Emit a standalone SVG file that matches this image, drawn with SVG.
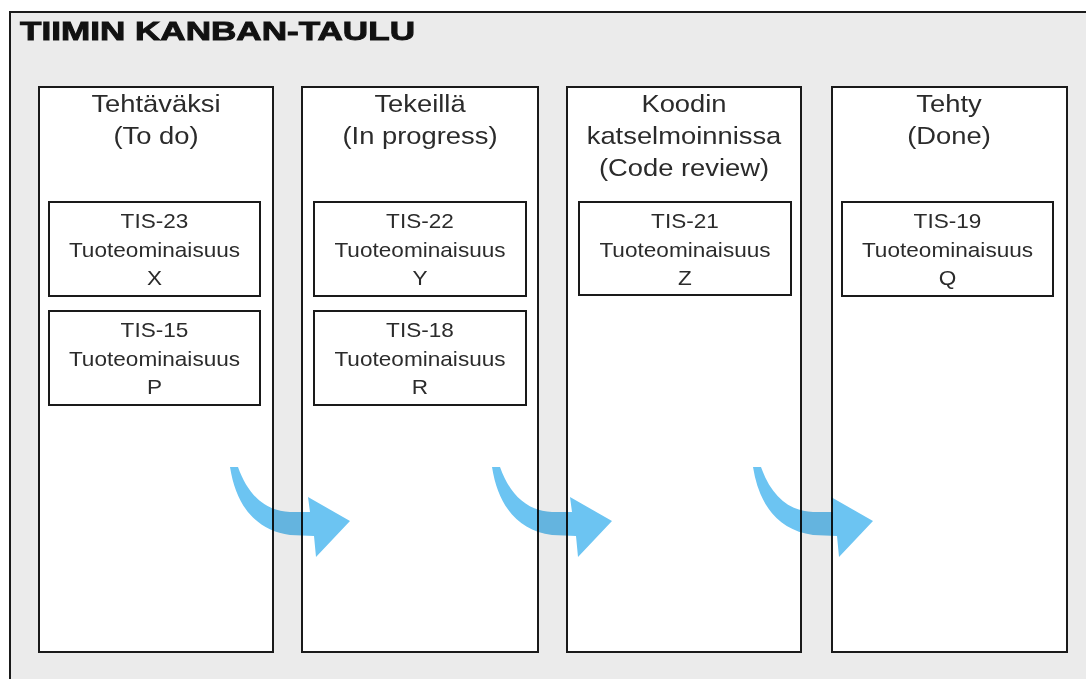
<svg xmlns="http://www.w3.org/2000/svg" width="1086" height="679" viewBox="0 0 1086 679">
<style>
.frame{fill:#ebebeb;stroke:#1a1a1a;stroke-width:2}
.col{fill:#ffffff;stroke:#1a1a1a;stroke-width:2}
.card{fill:#ffffff;stroke:#1a1a1a;stroke-width:2}
.title{font-family:"Liberation Sans",Arial,sans-serif;font-weight:bold;font-size:26px;fill:#111;stroke:#111;stroke-width:0.9}
.ct{font-family:"Liberation Sans",Arial,sans-serif;font-size:24px;fill:#2b2b2b;text-anchor:middle}
.kt{font-family:"Liberation Sans",Arial,sans-serif;font-size:20px;fill:#2b2b2b;text-anchor:middle}
.arrow{fill:#6cc4f2;mix-blend-mode:multiply}
</style>
<defs>
<path id="arr" d="M230,467 C236,505 255,530 290,535 L314,536 L316,557 L350,521 L308,497 L310,512 L290,512 C265,511 248,495 238,467 Z"/>
</defs>
<g id="board">
<rect class="frame" x="10" y="12" width="1090" height="680"/>
<text class="title" x="20" y="40" textLength="395" lengthAdjust="spacingAndGlyphs">TIIMIN KANBAN-TAULU</text>
</g>
<g id="col-todo">
<rect class="col" x="39" y="87" width="234" height="565"/>
<text class="ct" transform="translate(156,112) scale(1.14,1)">Tehtäväksi</text>
<text class="ct" transform="translate(156,144) scale(1.14,1)">(To do)</text>
</g>
<g id="col-progress">
<rect class="col" x="302" y="87" width="236" height="565"/>
<text class="ct" transform="translate(420,112) scale(1.14,1)">Tekeillä</text>
<text class="ct" transform="translate(420,144) scale(1.14,1)">(In progress)</text>
</g>
<g id="col-review">
<rect class="col" x="567" y="87" width="234" height="565"/>
<text class="ct" transform="translate(684,112) scale(1.14,1)">Koodin</text>
<text class="ct" transform="translate(684,144) scale(1.14,1)">katselmoinnissa</text>
<text class="ct" transform="translate(684,176) scale(1.14,1)">(Code review)</text>
</g>
<g id="col-done">
<rect class="col" x="832" y="87" width="235" height="565"/>
<text class="ct" transform="translate(949,112) scale(1.14,1)">Tehty</text>
<text class="ct" transform="translate(949,144) scale(1.14,1)">(Done)</text>
</g>
<g id="card-tis-23">
<rect class="card" x="49" y="202" width="211" height="94"/>
<text class="kt" transform="translate(154.5,228) scale(1.13,1)">TIS-23</text>
<text class="kt" transform="translate(154.5,257) scale(1.13,1)">Tuoteominaisuus</text>
<text class="kt" transform="translate(154.5,285) scale(1.13,1)">X</text>
</g>
<g id="card-tis-15">
<rect class="card" x="49" y="311" width="211" height="94"/>
<text class="kt" transform="translate(154.5,337) scale(1.13,1)">TIS-15</text>
<text class="kt" transform="translate(154.5,366) scale(1.13,1)">Tuoteominaisuus</text>
<text class="kt" transform="translate(154.5,394) scale(1.13,1)">P</text>
</g>
<g id="card-tis-22">
<rect class="card" x="314" y="202" width="212" height="94"/>
<text class="kt" transform="translate(420,228) scale(1.13,1)">TIS-22</text>
<text class="kt" transform="translate(420,257) scale(1.13,1)">Tuoteominaisuus</text>
<text class="kt" transform="translate(420,285) scale(1.13,1)">Y</text>
</g>
<g id="card-tis-18">
<rect class="card" x="314" y="311" width="212" height="94"/>
<text class="kt" transform="translate(420,337) scale(1.13,1)">TIS-18</text>
<text class="kt" transform="translate(420,366) scale(1.13,1)">Tuoteominaisuus</text>
<text class="kt" transform="translate(420,394) scale(1.13,1)">R</text>
</g>
<g id="card-tis-21">
<rect class="card" x="579" y="202" width="212" height="93"/>
<text class="kt" transform="translate(685,228) scale(1.13,1)">TIS-21</text>
<text class="kt" transform="translate(685,257) scale(1.13,1)">Tuoteominaisuus</text>
<text class="kt" transform="translate(685,285) scale(1.13,1)">Z</text>
</g>
<g id="card-tis-19">
<rect class="card" x="842" y="202" width="211" height="94"/>
<text class="kt" transform="translate(947.5,228) scale(1.13,1)">TIS-19</text>
<text class="kt" transform="translate(947.5,257) scale(1.13,1)">Tuoteominaisuus</text>
<text class="kt" transform="translate(947.5,285) scale(1.13,1)">Q</text>
</g>
<g id="connectors">
<use class="arrow" href="#arr"/>
<use class="arrow" href="#arr" transform="translate(262,0)"/>
<use class="arrow" href="#arr" transform="translate(523,0)"/>
</g>
</svg>
